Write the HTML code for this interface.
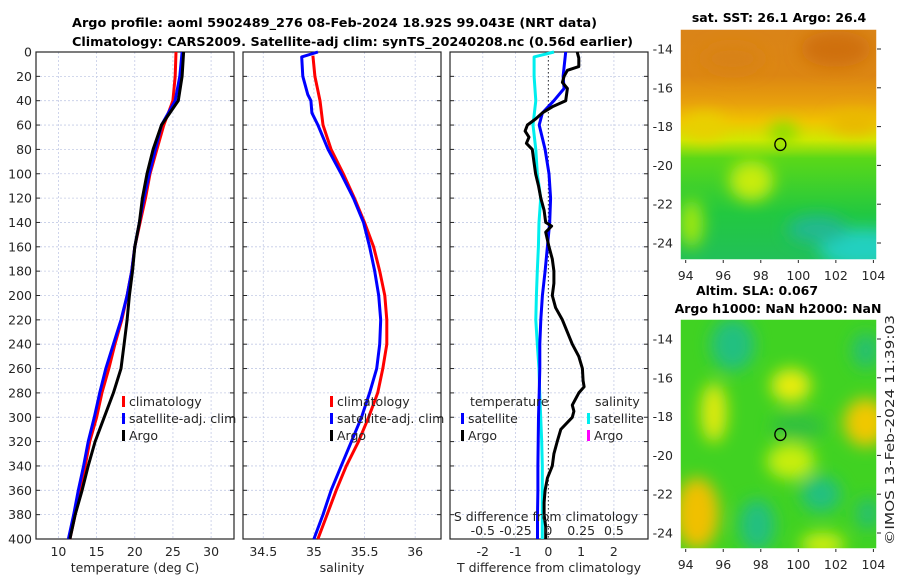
<!DOCTYPE html>
<html><head><meta charset="utf-8">
<style>
html,body{margin:0;padding:0;background:#fff;}
svg{display:block;font-family:"DejaVu Sans","Liberation Sans",sans-serif;}
.tk{font-size:12.5px;fill:#262626;}
.tt{font-size:12.5px;font-weight:bold;fill:#000;}
.lg{font-size:12.5px;fill:#262626;}
</style></head>
<body>
<svg id="fig" width="900" height="580" viewBox="0 0 900 580" xmlns="http://www.w3.org/2000/svg">
<defs>
<filter id="blr" x="-30%" y="-30%" width="160%" height="160%"><feGaussianBlur stdDeviation="8"/></filter>
<linearGradient id="sstg" x1="0" y1="0" x2="0" y2="1">
<stop offset="0" stop-color="#da8418"/><stop offset="0.2" stop-color="#dc8612"/>
<stop offset="0.32" stop-color="#e8a00c"/><stop offset="0.4" stop-color="#f0c400"/>
<stop offset="0.48" stop-color="#d0e800"/><stop offset="0.56" stop-color="#5ad818"/>
<stop offset="0.8" stop-color="#22c840"/><stop offset="1" stop-color="#22c058"/>
</linearGradient>
<clipPath id="c1"><rect x="680" y="29" width="197" height="231"/></clipPath>
<clipPath id="c2"><rect x="680" y="319" width="197" height="230"/></clipPath>
</defs>
<text class="tt" x="72" y="27" textLength="525" lengthAdjust="spacingAndGlyphs">Argo profile: aoml 5902489_276 08-Feb-2024 18.92S 99.043E (NRT data)</text>
<text class="tt" x="72" y="46" textLength="561" lengthAdjust="spacingAndGlyphs">Climatology: CARS2009. Satellite-adj clim: synTS_20240208.nc (0.56d earlier)</text>
<g id="panels"></g>
<g id="maps"></g>
<text class="tk" transform="translate(894,430) rotate(-90)" text-anchor="middle" textLength="230" lengthAdjust="spacingAndGlyphs">©IMOS 13-Feb-2024 11:39:03</text>
</svg>
<script>
// ---- data ----
const depths = [0,20,40,50,60,80,100,120,140,160,180,200,220,240,260,280,300,320,340,360,380,400];
const tempArgo = [26.4,26.2,25.7,24.6,23.5,22.4,21.6,21.0,20.6,20.0,19.7,19.3,19.0,18.6,18.2,17.2,16.0,14.8,13.9,13.1,12.2,11.5];
const tempClim = [25.4,25.3,25.0,24.4,23.8,22.9,22.0,21.4,20.7,20.0,19.6,19.0,18.3,17.4,16.6,15.7,15.0,14.1,13.5,12.8,12.2,11.5];
const tempSat  = [26.2,25.9,25.3,24.4,23.5,22.7,21.9,21.2,20.6,20.0,19.6,19.0,18.2,17.2,16.2,15.4,14.7,13.9,13.3,12.6,12.0,11.3];
const salDepths = [3,20,40,60,80,100,120,140,160,180,200,220,240,260,280,300,320,340,360,380,400];
const salClim = [34.99,35.01,35.06,35.09,35.17,35.29,35.40,35.50,35.59,35.65,35.70,35.72,35.72,35.68,35.63,35.54,35.44,35.32,35.22,35.13,35.04];
const salSatDepths = [0,4,20,35,40,50,60,80,100,120,140,160,180,200,220,240,260,280,300,320,340,360,380,400];
const salSat = [35.04,34.88,34.89,34.94,34.97,34.98,35.04,35.14,35.27,35.39,35.49,35.55,35.60,35.64,35.66,35.65,35.62,35.55,35.47,35.37,35.27,35.17,35.09,35.0];
const diffDepthsS = [0,4,20,40,60,80,100,120,140,160,180,200,220,240,260,280,300,320,340,360,380,400];
const salDiffSat = [0.043,-0.109,-0.109,-0.096,-0.117,-0.096,-0.084,-0.058,-0.071,-0.076,-0.084,-0.091,-0.096,-0.084,-0.071,-0.066,-0.058,-0.051,-0.046,-0.046,-0.046,-0.046];
const diffDepthsT = [0,20,30,40,50,60,80,100,120,140,160,180,200,220,240,260,280,300,320,340,360,380,400];
const tempDiffSat = [0.53,0.45,0.48,0.17,-0.18,-0.28,-0.10,0.02,0.07,0.04,-0.03,-0.10,-0.18,-0.23,-0.26,-0.26,-0.28,-0.30,-0.31,-0.32,-0.32,-0.33,-0.33];
const argoDiffDepths = [0,5,12,15,20,25,30,40,45,50,55,60,65,70,75,80,90,100,110,120,130,140,143,148,160,170,180,190,200,210,220,240,250,260,270,275,280,290,295,300,310,320,330,340,350,360,370,380,390,400];
const tempDiffArgo = [0.88,0.93,0.93,0.58,0.48,0.43,0.58,0.53,0.12,-0.18,-0.39,-0.64,-0.71,-0.59,-0.67,-0.49,-0.44,-0.39,-0.30,-0.23,-0.13,-0.08,0.10,-0.08,0.02,0.12,0.17,0.17,0.12,0.22,0.43,0.73,0.93,1.04,1.06,1.09,0.93,0.73,0.78,0.73,0.38,0.27,0.17,0.12,-0.03,-0.10,-0.13,-0.13,-0.08,-0.08];
const tTicks = [10,15,20,25,30];
const sTicks = [34.5,35,35.5,36];
const dTicks = [-2,-1,0,1,2];
const sdTicks = [-0.5,-0.25,0,0.25,0.5];
const sdTickLabels = ["-0.5","-0.25","0","0.25","0.5"];
const depthTicks = [0,20,40,60,80,100,120,140,160,180,200,220,240,260,280,300,320,340,360,380,400];
const lonTicks = [94,96,98,100,102,104];
const latTicks = [-14,-16,-18,-20,-22,-24];
const floatLon = 99.043, floatLat = -18.92;

// ---- helpers ----
const NS = "http://www.w3.org/2000/svg";
function mk(tag, attrs, parent){const e=document.createElementNS(NS,tag);for(const k in attrs)e.setAttribute(k,attrs[k]);parent.appendChild(e);return e;}
const PT=52, PB=539;
const yD = d => PT + d*(PB-PT)/400;
const panels = document.getElementById('panels');

function axes(x0,x1,xmin,xmax,ticks,labels,xlabel,name,showDepth){
  const g=mk('g',{},panels);
  
  
  const sx = v => x0 + (v-xmin)*(x1-x0)/(xmax-xmin);
  ticks.forEach((t,i)=>{
    mk('line',{x1:sx(t),x2:sx(t),y1:PT,y2:PB,stroke:'#c4cbe6','stroke-width':0.8,'stroke-dasharray':'2,2'},g);
    const tl=mk('text',{x:sx(t),y:PB+17,'text-anchor':'middle',class:'tk'},g);
    tl.textContent = labels ? labels[i] : t;
  });
  depthTicks.forEach(d=>{
    mk('line',{x1:x0,x2:x1,y1:yD(d),y2:yD(d),stroke:'#c4cbe6','stroke-width':0.8,'stroke-dasharray':'2,2'},g);
    mk('line',{x1:x0,x2:x0+4,y1:yD(d),y2:yD(d),stroke:'#262626'},g);
    mk('line',{x1:x1-4,x2:x1,y1:yD(d),y2:yD(d),stroke:'#262626'},g);
    if(showDepth){const t=mk('text',{x:x0-4,y:yD(d)+4.5,'text-anchor':'end',class:'tk'},g);t.textContent=d;}
  });
  mk('rect',{x:x0,y:PT,width:x1-x0,height:PB-PT,fill:'none',stroke:'#262626','stroke-width':1.2},g);
  const xl=mk('text',{x:(x0+x1)/2,y:PB+33,'text-anchor':'middle',class:'tk'},g);
  xl.textContent=xlabel;
  return sx;
}
function line(sx,vals,ds,color,name,w){
  const p = vals.map((v,i)=>sx(v).toFixed(1)+','+yD(ds[i]).toFixed(1)).join(' ');
  const pl=mk('polyline',{points:p,fill:'none',stroke:color,'stroke-width':w||3,'stroke-linejoin':'round'},panels);
  
  
}
function legend(x,y,items){
  items.forEach((it,i)=>{
    mk('rect',{x:x,y:y+i*17-10,width:3,height:11,fill:it[0]},panels);
    const t=mk('text',{x:x+7,y:y+i*17,class:'lg'},panels);
    t.textContent=it[1];
    
    
  });
}

// panel 1 temperature
const sxT = axes(36,234,7.06,33.0,tTicks,null,'temperature (deg C)','temperature-axes',true);
line(sxT,tempClim,depths,'#ff0000','temp-climatology-line');
line(sxT,tempSat,depths,'#0000ff','temp-satellite-line');
line(sxT,tempArgo,depths,'#000000','temp-argo-line');
legend(122,406,[['#ff0000','climatology'],['#0000ff','satellite-adj. clim'],['#000000','Argo']]);

// panel 2 salinity
const sxS = axes(243,441,34.30,36.255,sTicks,null,'salinity','salinity-axes',false);
line(sxS,salClim,salDepths,'#ff0000','sal-climatology-line');
line(sxS,salSat,salSatDepths,'#0000ff','sal-satellite-line');
legend(330,406,[['#ff0000','climatology'],['#0000ff','satellite-adj. clim'],['#000000','Argo']]);

// panel 3 differences
const sxD = axes(450,648,-3,3.04,dTicks,null,'T difference from climatology','difference-axes',false);
mk('line',{x1:sxD(0),x2:sxD(0),y1:PT,y2:PB,stroke:'#333','stroke-width':1,'stroke-dasharray':'1.5,2.5'},panels);
const sxSD = v => sxD(v*4);
line(sxSD,salDiffSat,diffDepthsS,'#00eeee','sal-diff-satellite-line');
line(sxD,tempDiffSat,diffDepthsT,'#0000ff','temp-diff-satellite-line');
line(sxD,tempDiffArgo,argoDiffDepths,'#000000','temp-diff-argo-line');
let t=mk('text',{x:470,y:406,class:'lg'},panels); t.textContent='temperature';
t=mk('text',{x:595,y:406,class:'lg'},panels); t.textContent='salinity';
legend(461,423,[['#0000ff','satellite'],['#000000','Argo']]);
legend(587,423,[['#00eeee','satellite'],['#ff00ff','Argo']]);
t=mk('text',{x:546,y:521,'text-anchor':'middle',class:'lg'},panels); t.textContent='S difference from climatology';
sdTicks.forEach((v,i)=>{const e=mk('text',{x:sxSD(v),y:535,'text-anchor':'middle',class:'lg'},panels);e.textContent=sdTickLabels[i];});

// ---- maps ----
const maps=document.getElementById('maps');
function mapAxes(yTop,yBot,lat14,lat24,name,clip,draw){
  const g=mk('g',{},maps);
  
  
  const lx = lon => 685.7 + (lon-94)*18.77;
  const ly = lat => lat14 + (-14-lat)*(lat24-lat14)/10;
  const inner=mk('g',{'clip-path':'url(#'+clip+')'},g);
  draw(inner,lx,ly);
  mk('ellipse',{cx:lx(floatLon),cy:ly(floatLat),rx:5.5,ry:6,fill:'none',stroke:'#000','stroke-width':1.3},g);
  mk('rect',{x:680,y:yTop,width:197,height:yBot-yTop,fill:'none',stroke:'#fff','stroke-width':1.5},g);
  lonTicks.forEach(v=>{const e=mk('text',{x:lx(v),y:yBot+20,'text-anchor':'middle',class:'tk'},g);e.textContent=v;
    mk('line',{x1:lx(v),x2:lx(v),y1:yBot,y2:yBot+3,stroke:'#262626'},g);});
  latTicks.forEach(v=>{const e=mk('text',{x:673,y:ly(v)+4.5,'text-anchor':'end',class:'tk'},g);e.textContent=v;
    mk('line',{x1:877,x2:881,y1:ly(v),y2:ly(v),stroke:'#262626'},g);});
}
let mt=mk('text',{x:779,y:22,'text-anchor':'middle',class:'tt'},maps); mt.textContent='sat. SST: 26.1 Argo: 26.4';
mapAxes(29,260,49,243,'sst-map','c1',(g,lx,ly)=>{
  mk('rect',{x:680,y:29,width:197,height:231,fill:'url(#sstg)'},g);
  const bl=mk('g',{filter:'url(#blr)'},g);
  [[103.5,-24.3,45,20,'#20d0c0'],[101,-23.3,30,14,'#20b890'],[97.5,-20.8,22,20,'#c8ec10'],[94.3,-23,12,24,'#a0e810'],[99.2,-18.3,14,10,'#80e000'],[95,-18,22,14,'#e8d000'],[103,-17.8,25,12,'#e8b800'],[102,-14,35,18,'#cf7010'],[96.5,-14.5,30,14,'#d88214']].forEach(b=>{
    mk('ellipse',{cx:lx(b[0]),cy:ly(b[1]),rx:b[2],ry:b[3],fill:b[4]},bl);});
});
mt=mk('text',{x:757,y:295,'text-anchor':'middle',class:'tt'},maps); mt.textContent='Altim. SLA: 0.067';
mt=mk('text',{x:778,y:313,'text-anchor':'middle',class:'tt'},maps); mt.textContent='Argo h1000: NaN h2000: NaN';
mapAxes(319,549,339,533,'sla-map','c2',(g,lx,ly)=>{
  mk('rect',{x:680,y:319,width:197,height:230,fill:'#40d222'},g);
  const bl=mk('g',{filter:'url(#blr)'},g);
  [[96.5,-14.3,22,26,'#20c080'],[97.8,-23.6,18,26,'#20c080'],[101.2,-22,20,18,'#20c080'],[103.7,-23,12,16,'#28c070'],[103.6,-14.6,14,18,'#28c070'],[100,-18.5,28,12,'#30c040'],
   [99.6,-16.4,20,17,'#e8ec10'],[103.6,-18.3,22,24,'#f0c800'],[95.5,-17.8,13,30,'#e0ea10'],[94.6,-23,22,36,'#f0c000'],[99.6,-20.3,24,18,'#c8ee10'],[101.3,-24.6,22,12,'#d0ee10']].forEach(b=>{
    mk('ellipse',{cx:lx(b[0]),cy:ly(b[1]),rx:b[2],ry:b[3],fill:b[4]},bl);});
});
</script>
</body></html>
